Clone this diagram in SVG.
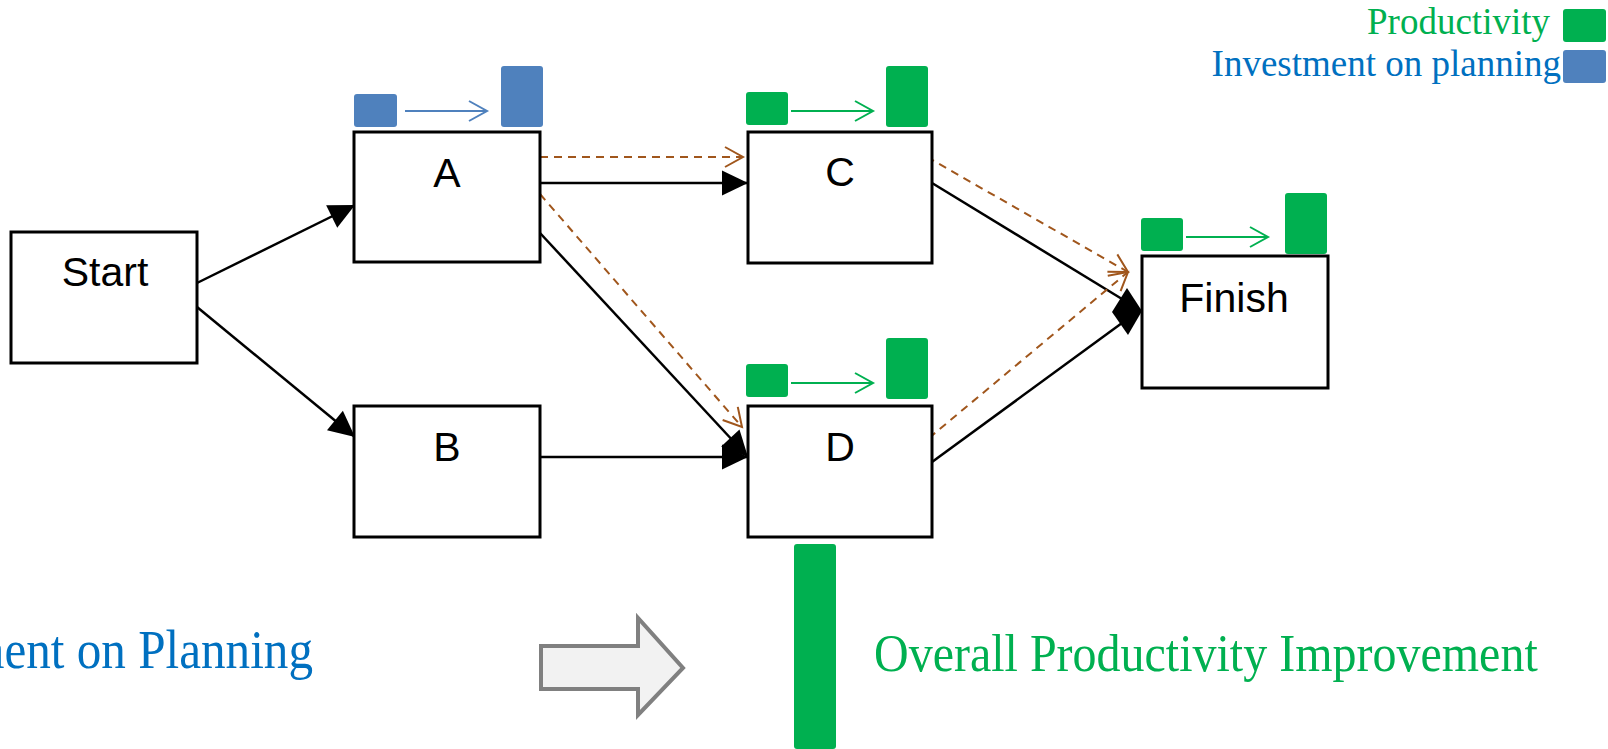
<svg xmlns="http://www.w3.org/2000/svg" width="1608" height="749" viewBox="0 0 1608 749">
<defs>
<style>
.box{fill:#fff;stroke:#000;stroke-width:3}
.lbl{font-family:"Liberation Sans",Arial,sans-serif;font-size:41px;fill:#000;text-anchor:middle}
.con{stroke:#000;stroke-width:2.5;fill:none}
.dash{stroke:#a0561c;stroke-width:2;fill:none;stroke-dasharray:8 6}
.g{fill:#00b050}
.b{fill:#4f81bd}
.garr{stroke:#00b050;stroke-width:2;fill:none}
.barr{stroke:#4f81bd;stroke-width:2;fill:none}
.serif{font-family:"Liberation Serif","Times New Roman",serif}
</style>
<marker id="fh" markerUnits="userSpaceOnUse" markerWidth="26" markerHeight="25" refX="26" refY="12.5" orient="auto" overflow="visible">
<path d="M0,0 L26,12.5 L0,25 z" fill="#000"/>
</marker>
<marker id="oh" markerUnits="userSpaceOnUse" markerWidth="20" markerHeight="22" refX="18" refY="10" orient="auto" overflow="visible">
<path d="M0,0 L18,10 L0,20" fill="none" stroke="#a0561c" stroke-width="2"/>
</marker>
<marker id="gh" markerUnits="userSpaceOnUse" markerWidth="20" markerHeight="22" refX="18" refY="10" orient="auto" overflow="visible">
<path d="M0,0 L18,10 L0,20" fill="none" stroke="#00b050" stroke-width="2"/>
</marker>
<marker id="bh" markerUnits="userSpaceOnUse" markerWidth="20" markerHeight="22" refX="18" refY="10" orient="auto" overflow="visible">
<path d="M0,0 L18,10 L0,20" fill="none" stroke="#4f81bd" stroke-width="2"/>
</marker>
</defs>
<rect width="1608" height="749" fill="#fff"/>

<g id="connectors">
<line class="con" x1="197" y1="283" x2="355" y2="205" marker-end="url(#fh)"/>
<line class="con" x1="197" y1="307" x2="355" y2="437" marker-end="url(#fh)"/>
<line class="con" x1="540" y1="183" x2="748" y2="183" marker-end="url(#fh)"/>
<line class="con" x1="540" y1="233" x2="748" y2="457" marker-end="url(#fh)"/>
<line class="con" x1="540" y1="457" x2="748" y2="457" marker-end="url(#fh)"/>
<line class="con" x1="932" y1="183" x2="1122" y2="299"/>
<line class="con" x1="932" y1="462" x2="1122" y2="323"/>
<path d="M1127,288 L1142,311 L1128,335 L1112,312 Z" fill="#000"/>
<line class="dash" x1="540" y1="157" x2="743" y2="157" marker-end="url(#oh)"/>
<line class="dash" x1="540" y1="194" x2="742" y2="427" marker-end="url(#oh)"/>
<line class="dash" x1="927" y1="157" x2="1128" y2="272" marker-end="url(#oh)"/>
<line class="dash" x1="929" y1="438" x2="1128" y2="272" marker-end="url(#oh)"/>
</g>

<g id="node-start">
<rect class="box" x="11" y="232" width="186" height="131"/>
<text class="lbl" x="105" y="286">Start</text>
</g>

<g id="node-a">
<rect class="box" x="354" y="132" width="186" height="130"/>
<text class="lbl" x="447" y="187">A</text>
<rect class="b" x="354" y="94" width="43" height="33" rx="3"/>
<line class="barr" x1="405" y1="111" x2="487" y2="111" marker-end="url(#bh)"/>
<rect class="b" x="501" y="66" width="42" height="61" rx="3"/>
</g>

<g id="node-b">
<rect class="box" x="354" y="406" width="186" height="131"/>
<text class="lbl" x="447" y="461">B</text>
</g>

<g id="node-c">
<rect class="box" x="748" y="132" width="184" height="131"/>
<text class="lbl" x="840" y="186">C</text>
<rect class="g" x="746" y="92" width="42" height="33" rx="3"/>
<line class="garr" x1="791" y1="111" x2="873" y2="111" marker-end="url(#gh)"/>
<rect class="g" x="886" y="66" width="42" height="61" rx="3"/>
</g>

<g id="node-d">
<rect class="box" x="748" y="406" width="184" height="131"/>
<text class="lbl" x="840" y="461">D</text>
<rect class="g" x="746" y="364" width="42" height="33" rx="3"/>
<line class="garr" x1="791" y1="383" x2="873" y2="383" marker-end="url(#gh)"/>
<rect class="g" x="886" y="338" width="42" height="61" rx="3"/>
</g>

<g id="node-finish">
<rect class="box" x="1142" y="256" width="186" height="132"/>
<text class="lbl" x="1234" y="312">Finish</text>
<rect class="g" x="1141" y="218" width="42" height="33" rx="3"/>
<line class="garr" x1="1186" y1="237" x2="1268" y2="237" marker-end="url(#gh)"/>
<rect class="g" x="1285" y="193" width="42" height="61" rx="3"/>
</g>

<g id="legend">
<text class="serif" x="1550" y="34" font-size="37" fill="#00b050" text-anchor="end">Productivity</text>
<rect class="g" x="1563" y="9" width="43" height="33" rx="3"/>
<text class="serif" x="1561" y="76" font-size="37" fill="#0070c0" text-anchor="end">Investment on planning</text>
<rect class="b" x="1563" y="50" width="43" height="33" rx="3"/>
</g>

<g id="summary">
<text class="serif" x="-154" y="668" font-size="54" fill="#0070c0" textLength="467" lengthAdjust="spacingAndGlyphs">Investment on Planning</text>
<path d="M541,646 L638,646 L638,618 L683,668 L638,715 L638,689 L541,689 Z" fill="#f2f2f2" stroke="#808080" stroke-width="4"/>
<rect class="g" x="794" y="544" width="42" height="205" rx="3"/>
<text class="serif" font-size="48" fill="#00b050" transform="translate(874,671) scale(1,1.12)">Overall Productivity Improvement</text>
</g>
</svg>
